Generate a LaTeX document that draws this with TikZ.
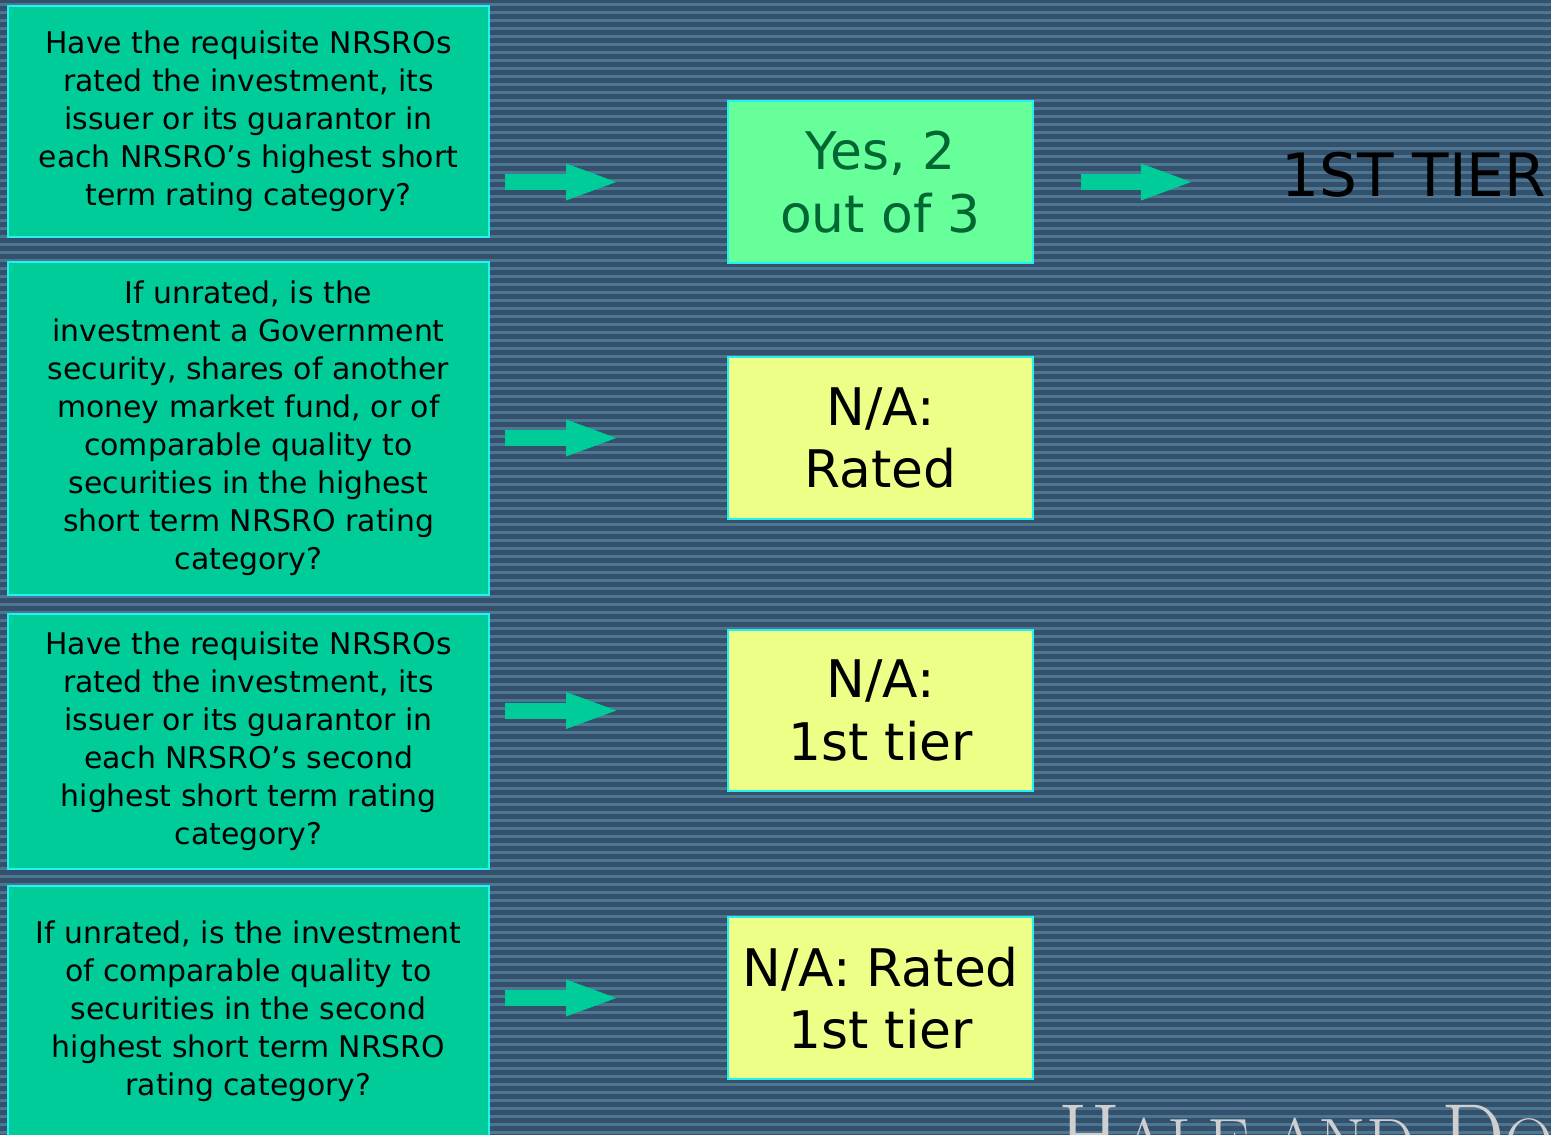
\documentclass[tikz,border=0pt]{standalone}
\usepackage{fontspec}
\setmainfont{DejaVu Sans}
\newfontfamily\logofont{Latin Modern Roman}
\usetikzlibrary{arrows.meta,calc}

\definecolor{bgdark}{HTML}{34506A}
\definecolor{bglight}{HTML}{4B7794}
\definecolor{qgreen}{HTML}{00CC99}
\definecolor{edgecyan}{HTML}{22F2F2}
\definecolor{yesfill}{HTML}{66FF99}
\definecolor{yestext}{HTML}{006633}
\definecolor{nafill}{HTML}{EEFF88}
\definecolor{logogray}{HTML}{CFCFCF}

\newcommand{\logosc}[1]{{\fontsize{39}{39}\selectfont #1}}

\tikzset{
  qbox/.style={draw=edgecyan, line width=0.04cm, fill=qgreen, align=center,
    minimum width=9.62cm, inner sep=0pt, font=\fontsize{17}{21.6}\selectfont},
  abox/.style={draw=edgecyan, line width=0.04cm, align=center,
    minimum width=6.1cm, minimum height=3.24cm, inner sep=0pt,
    font=\fontsize{29.5}{35.5}\selectfont},
  flow/.style={qgreen, line width=0.32cm,
    -{Triangle[length=1.1cm, width=0.64cm]}}
}

\begin{document}
\begin{tikzpicture}[x=0.02cm, y=-0.02cm]
    \clip (0,0) rectangle (1551,1135);

    % Striped background
    \fill[bgdark] (0,0) rectangle (1551,1135);
    \foreach \s in {0,...,142}
        \fill[bglight] (0,{\s*8+3}) rectangle (1551,{\s*8+6});

    % Questions
    \node[qbox, minimum height=4.62cm] (q1) at (248.5,121.5)
        {Have the requisite NRSROs\\ rated the investment, its\\ issuer or its guarantor in\\
         each NRSRO's highest short\\ term rating category?};
    \node[qbox, minimum height=6.66cm] (q2) at (248.5,428.5)
        {If unrated, is the\\ investment a Government\\ security, shares of another\\
         money market fund, or of\\ comparable quality to\\ securities in the highest\\
         short term NRSRO rating\\ category?};
    \node[qbox, minimum height=5.1cm] (q3) at (248.5,741.5)
        {Have the requisite NRSROs\\ rated the investment, its\\ issuer or its guarantor in\\
         each NRSRO's second\\ highest short term rating\\ category?};
    \node[qbox, minimum height=5cm] (q4) at (248.5,1011)
        {If unrated, is the investment\\ of comparable quality to\\ securities in the second\\
         highest short term NRSRO\\ rating category?};

    % Answers
    \node[abox, fill=yesfill, text=yestext] (a1) at (880.5,182) {Yes, 2\\ out of 3};
    \node[abox, fill=nafill] (a2) at (880.5,438) {N/A:\\ Rated};
    \node[abox, fill=nafill] (a3) at (880.5,710.5) {N/A:\\ 1st tier};
    \node[abox, fill=nafill] (a4) at (880.5,998) {N/A: Rated\\ 1st tier};

    % Result
    \node[anchor=west, inner sep=0pt, font=\fontsize{34}{40}\selectfont] (tier) at (1281,175) {1ST TIER};

    % Arrows
    \draw[flow] ($(q1.east |- a1.west)+(15,0)$) -- ($(a1.west)+(-106,0)$);
    \draw[flow] ($(q2.east |- a2.west)+(15,0)$) -- ($(a2.west)+(-106,0)$);
    \draw[flow] ($(q3.east |- a3.west)+(15,0)$) -- ($(a3.west)+(-106,0)$);
    \draw[flow] ($(q4.east |- a4.west)+(15,0)$) -- ($(a4.west)+(-106,0)$);
    \draw[flow] ($(a1.east)+(47,0)$) -- ($(a1.east)+(162,0)$);

    % Logo
    \node[anchor=base west, inner sep=0pt, text=logogray,
          font=\logofont\fontsize{51}{51}\selectfont] (logo) at (1058,1166)
        {H\logosc{ALE AND} D\logosc{ORR}};
\end{tikzpicture}
\end{document}
